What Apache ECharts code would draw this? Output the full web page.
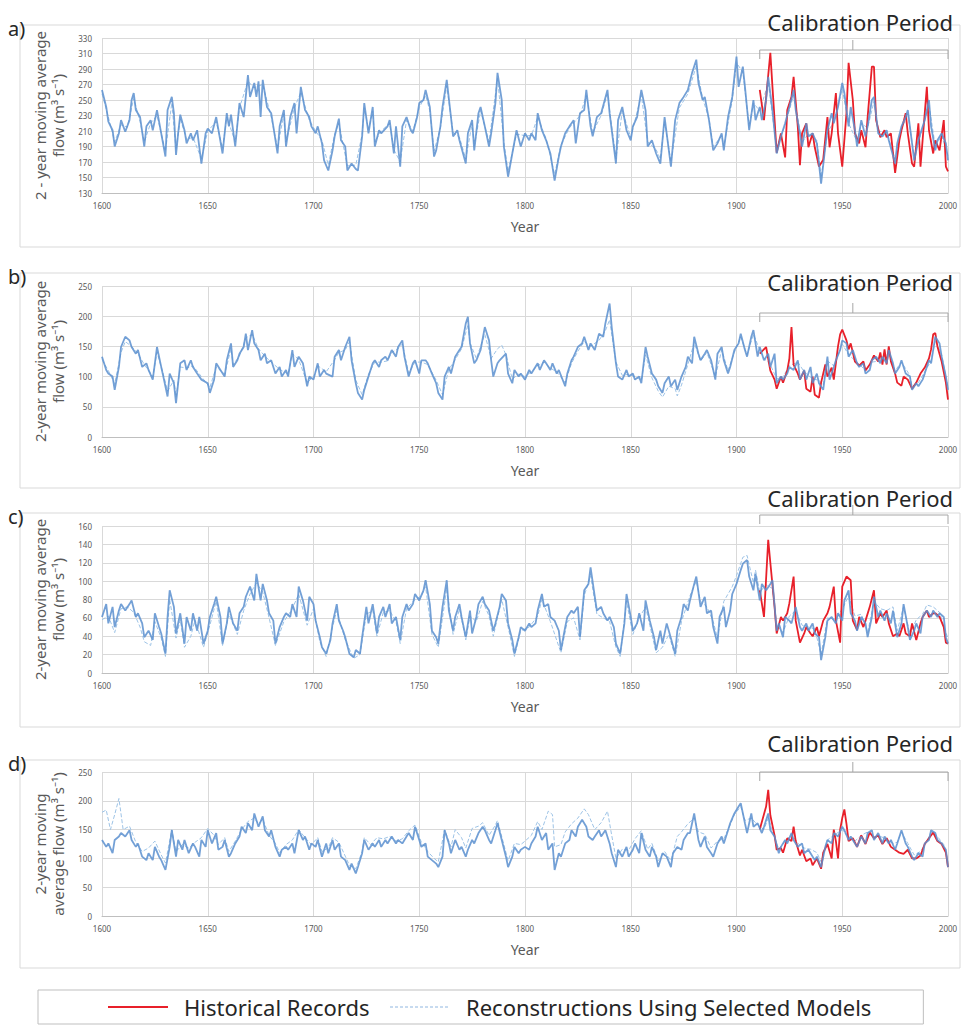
<!DOCTYPE html>
<html>
<head>
<meta charset="utf-8">
<script src="https://cdn.jsdelivr.net/npm/echarts@6/dist/echarts.min.js"></script>
<style>
  html, body { margin: 0; background: #fff; }
  #chart { width: 970px; height: 1027px; }
</style>
</head>
<body>
<div id="chart"></div>
<script>
// ---- series names / calibration window ----
const HIST_NAME = 'Historical Records';
const REC_NAME = 'Reconstructions Using Selected Models';
const CAL_START = 1911, CAL_END = 2000, CAL_MID = 1955;

// ---- panel a) [year, flow] ----
const A_REC = [[1600,263],[1602,241],[1603,222],[1605,211],[1606,190],[1608,207],[1609,224],[1611,209],[1613,224],[1614,250],[1615,259],[1616,237],[1618,228],[1620,190],[1621,216],[1623,224],[1624,211],[1626,237],[1628,207],[1630,177],[1631,237],[1633,254],[1634,233],[1635,179],[1636,207],[1637,231],[1639,211],[1640,194],[1642,207],[1643,198],[1645,211],[1647,168],[1649,207],[1650,213],[1652,207],[1654,228],[1657,181],[1659,233],[1660,216],[1661,231],[1663,190],[1665,246],[1667,228],[1669,282],[1670,254],[1672,272],[1673,254],[1674,274],[1675,228],[1676,276],[1678,241],[1680,233],[1681,216],[1683,181],[1684,216],[1686,237],[1687,190],[1689,228],[1691,246],[1692,207],[1694,267],[1696,237],[1698,228],[1699,216],[1701,207],[1702,216],[1704,194],[1705,172],[1707,159],[1709,185],[1710,203],[1712,226],[1713,198],[1715,190],[1716,159],[1718,168],[1720,161],[1721,159],[1723,203],[1724,246],[1726,207],[1728,241],[1729,190],[1731,211],[1732,207],[1735,216],[1736,224],[1738,181],[1739,216],[1741,164],[1742,216],[1744,228],[1746,211],[1747,207],[1749,228],[1750,246],[1752,250],[1753,263],[1755,241],[1757,177],[1758,185],[1760,216],[1761,241],[1763,276],[1765,228],[1766,203],[1768,211],[1769,198],[1772,168],[1773,207],[1775,224],[1776,185],[1778,233],[1779,241],[1781,216],[1783,190],[1784,207],[1786,246],[1787,285],[1789,250],[1790,190],[1792,151],[1794,181],[1796,211],[1798,190],[1800,207],[1802,198],[1803,207],[1805,198],[1806,233],[1808,211],[1810,198],[1812,181],[1814,146],[1816,177],[1817,190],[1819,207],[1821,216],[1823,224],[1824,194],[1826,233],[1828,237],[1829,263],[1831,216],[1832,203],[1834,228],[1836,233],[1839,263],[1840,233],[1843,168],[1844,224],[1846,241],[1848,211],[1850,198],[1851,216],[1853,228],[1855,263],[1857,237],[1858,190],[1860,198],[1862,181],[1864,168],[1866,228],[1869,164],[1871,224],[1873,246],[1875,254],[1877,263],[1879,285],[1881,302],[1882,272],[1884,250],[1885,254],[1887,224],[1889,185],[1891,194],[1893,207],[1894,185],[1896,228],[1898,254],[1900,306],[1901,267],[1903,293],[1904,267],[1906,211],[1908,250],[1909,224],[1911,241],[1912,224],[1914,250],[1915,280],[1917,237],[1919,181],[1921,203],[1923,220],[1925,241],[1927,263],[1928,237],[1930,207],[1931,190],[1933,220],[1934,203],[1936,207],[1938,194],[1940,142],[1942,190],[1943,211],[1945,233],[1946,220],[1948,241],[1950,272],[1951,259],[1953,216],[1954,241],[1956,211],[1957,190],[1959,224],[1961,203],[1962,216],[1964,250],[1965,254],[1967,207],[1969,203],[1971,211],[1972,198],[1975,168],[1976,194],[1978,216],[1980,228],[1981,237],[1983,194],[1984,172],[1986,198],[1987,207],[1989,224],[1991,250],[1992,216],[1994,185],[1995,198],[1997,207],[1999,194],[2000,172]];
const A_REC2 = [[1600,258],[1603,228],[1606,196],[1609,218],[1612,215],[1615,252],[1618,222],[1620,196],[1623,220],[1626,230],[1630,184],[1633,246],[1635,186],[1637,226],[1640,199],[1643,202],[1647,174],[1650,210],[1654,222],[1657,188],[1659,228],[1663,196],[1665,240],[1669,274],[1672,266],[1674,268],[1676,270],[1680,228],[1683,188],[1686,232],[1687,196],[1691,240],[1694,260],[1698,224],[1701,210],[1704,198],[1707,166],[1710,206],[1712,220],[1716,165],[1720,166],[1723,206],[1724,240],[1726,212],[1728,236],[1729,196],[1732,210],[1736,220],[1738,186],[1741,170],[1744,224],[1747,210],[1750,240],[1753,256],[1755,236],[1757,184],[1760,214],[1763,268],[1766,208],[1769,202],[1772,174],[1775,220],[1776,190],[1779,236],[1783,196],[1787,278],[1790,196],[1792,158],[1796,206],[1800,204],[1803,204],[1806,228],[1810,200],[1814,154],[1817,192],[1821,214],[1826,230],[1829,256],[1832,208],[1836,230],[1839,258],[1843,174],[1846,236],[1850,202],[1855,256],[1858,196],[1862,186],[1864,174],[1866,222],[1869,170],[1873,240],[1877,258],[1881,294],[1884,252],[1887,226],[1889,190],[1893,204],[1894,190],[1898,250],[1900,298],[1903,286],[1906,216],[1908,246],[1911,236],[1915,272],[1919,188],[1923,218],[1927,256],[1931,196],[1934,206],[1938,198],[1940,150],[1943,208],[1946,222],[1950,264],[1953,220],[1957,196],[1959,220],[1962,214],[1965,248],[1967,210],[1971,208],[1975,174],[1978,212],[1981,232],[1984,178],[1987,204],[1991,244],[1994,190],[1997,204],[2000,178]];
const A_HIST = [[1911,263],[1913,224],[1916,311],[1917,267],[1919,182],[1921,207],[1923,176],[1924,237],[1926,254],[1927,280],[1929,215],[1930,166],[1931,207],[1933,220],[1934,189],[1936,207],[1937,189],[1939,164],[1941,173],[1943,228],[1944,189],[1945,207],[1947,259],[1948,207],[1950,164],[1952,233],[1953,298],[1955,250],[1956,207],[1958,194],[1959,211],[1961,189],[1962,228],[1964,293],[1965,293],[1966,224],[1968,202],[1970,211],[1971,202],[1973,207],[1975,156],[1977,198],[1978,211],[1980,233],[1981,207],[1983,168],[1984,164],[1986,220],[1987,164],[1990,267],[1991,211],[1993,181],[1994,198],[1996,185],[1998,224],[1999,164],[2000,158]];

// ---- panel b) ----
const B_REC = [[1600,133],[1602,111],[1603,105],[1605,100],[1606,78],[1608,116],[1609,149],[1611,166],[1613,160],[1614,149],[1616,138],[1617,144],[1619,116],[1621,122],[1622,111],[1624,95],[1626,149],[1628,116],[1629,100],[1631,67],[1632,105],[1634,89],[1635,56],[1637,122],[1639,127],[1640,111],[1642,127],[1643,116],[1645,105],[1647,95],[1650,89],[1651,73],[1653,95],[1654,122],[1656,111],[1658,100],[1659,127],[1661,155],[1662,116],[1664,127],[1665,138],[1667,149],[1668,171],[1669,144],[1671,177],[1672,155],[1674,144],[1675,127],[1677,138],[1678,122],[1680,127],[1682,105],[1684,116],[1685,100],[1687,111],[1688,100],[1690,144],[1691,116],[1693,133],[1695,122],[1697,84],[1698,100],[1700,95],[1702,122],[1703,100],[1705,111],[1706,105],[1709,100],[1710,133],[1712,144],[1713,127],[1715,149],[1717,166],[1718,127],[1720,89],[1721,73],[1723,62],[1724,78],[1726,100],[1728,122],[1729,127],[1731,116],[1732,127],[1734,133],[1735,127],[1737,144],[1739,133],[1740,149],[1742,160],[1743,133],[1745,100],[1747,122],[1748,127],[1750,105],[1751,127],[1753,127],[1754,122],[1756,105],[1758,89],[1759,73],[1761,62],[1762,100],[1764,116],[1765,105],[1767,133],[1769,144],[1770,149],[1772,188],[1773,199],[1774,155],[1776,122],[1777,127],[1779,144],[1781,182],[1783,160],[1784,127],[1785,100],[1787,122],[1788,127],[1791,138],[1792,105],[1794,89],[1795,111],[1797,100],[1798,105],[1800,95],[1802,111],[1803,105],[1806,122],[1807,111],[1809,127],[1810,122],[1812,111],[1813,122],[1815,105],[1816,111],[1819,84],[1820,105],[1822,127],[1823,133],[1825,149],[1827,155],[1828,166],[1830,144],[1831,155],[1833,144],[1835,171],[1837,166],[1838,188],[1840,221],[1841,182],[1843,122],[1844,100],[1846,95],[1848,111],[1849,100],[1851,105],[1852,95],[1854,100],[1855,89],[1857,149],[1858,133],[1860,105],[1862,95],[1863,84],[1865,73],[1866,89],[1868,100],[1869,84],[1871,95],[1872,78],[1874,100],[1876,116],[1877,133],[1879,122],[1880,166],[1882,138],[1883,127],[1885,138],[1886,144],[1888,127],[1890,95],[1891,138],[1893,149],[1894,127],[1896,105],[1897,116],[1899,144],[1901,155],[1902,171],[1904,144],[1905,133],[1907,166],[1908,177],[1910,133],[1911,149],[1913,127],[1915,138],[1916,116],[1918,138],[1919,89],[1921,100],[1922,95],[1924,105],[1925,116],[1927,111],[1929,127],[1930,95],[1932,111],[1933,95],[1935,116],[1936,89],[1938,105],[1939,89],[1941,78],[1943,133],[1944,95],[1946,116],[1947,127],[1949,144],[1950,160],[1952,155],[1953,133],[1955,144],[1957,122],[1958,116],[1960,122],[1961,105],[1963,111],[1964,127],[1966,133],[1968,122],[1969,133],[1971,122],[1972,144],[1974,122],[1975,105],[1977,116],[1978,127],[1980,105],[1982,100],[1983,78],[1985,89],[1986,84],[1988,95],[1989,105],[1991,127],[1992,122],[1994,166],[1996,155],[1997,133],[1999,100],[2000,78]];
const B_REC2 = [[1600,128],[1603,110],[1606,88],[1609,140],[1611,158],[1614,150],[1617,138],[1620,120],[1624,100],[1626,140],[1629,104],[1631,76],[1634,94],[1635,66],[1637,116],[1640,114],[1643,118],[1647,100],[1651,82],[1654,116],[1658,104],[1661,146],[1662,120],[1665,134],[1668,164],[1671,170],[1674,146],[1677,134],[1680,124],[1684,112],[1688,104],[1690,138],[1693,128],[1697,90],[1700,100],[1702,118],[1706,108],[1710,128],[1712,140],[1715,144],[1717,158],[1720,94],[1723,70],[1726,104],[1729,124],[1732,124],[1735,126],[1737,140],[1740,146],[1742,154],[1745,106],[1748,124],[1751,124],[1754,120],[1758,94],[1761,70],[1764,112],[1767,128],[1770,146],[1773,186],[1774,156],[1777,130],[1781,170],[1784,130],[1787,146],[1789,152],[1791,136],[1794,96],[1797,104],[1800,100],[1803,108],[1806,118],[1809,124],[1812,114],[1815,108],[1819,90],[1822,122],[1825,142],[1828,158],[1831,150],[1835,160],[1838,176],[1840,194],[1841,170],[1843,124],[1846,102],[1849,104],[1852,100],[1855,94],[1857,136],[1860,98],[1863,76],[1865,66],[1868,84],[1871,80],[1872,68],[1874,86],[1877,120],[1880,156],[1883,126],[1886,140],[1890,100],[1893,144],[1896,110],[1899,140],[1902,166],[1905,136],[1908,170],[1911,144],[1913,130],[1916,120],[1919,96],[1922,100],[1925,118],[1929,124],[1932,108],[1936,96],[1939,94],[1941,86],[1943,126],[1946,118],[1950,154],[1953,136],[1957,124],[1961,110],[1964,124],[1968,126],[1972,140],[1975,110],[1978,124],[1982,102],[1983,84],[1986,90],[1989,108],[1992,126],[1994,160],[1997,136],[2000,82]];
const B_HIST = [[1911,138],[1914,149],[1916,110],[1918,95],[1919,80],[1921,100],[1922,90],[1924,110],[1925,130],[1926,182],[1927,120],[1929,105],[1930,95],[1932,110],[1933,80],[1935,75],[1936,100],[1937,70],[1939,65],[1940,90],[1942,120],[1943,100],[1945,115],[1946,95],[1948,150],[1949,170],[1950,178],[1952,160],[1953,145],[1954,155],[1956,125],[1958,118],[1960,125],[1961,110],[1963,120],[1965,135],[1967,125],[1968,140],[1969,120],[1970,145],[1971,120],[1972,150],[1973,125],[1975,105],[1976,90],[1978,85],[1979,100],[1981,95],[1983,80],[1985,90],[1987,105],[1989,115],[1991,130],[1992,145],[1993,170],[1994,172],[1995,150],[1997,125],[1999,90],[2000,62]];

// ---- panel c) ----
const C_REC = [[1600,61],[1602,75],[1603,54],[1605,72],[1606,50],[1608,68],[1609,75],[1611,68],[1613,75],[1614,79],[1616,61],[1617,65],[1619,54],[1620,39],[1622,46],[1624,36],[1625,65],[1627,50],[1628,43],[1630,21],[1631,61],[1632,90],[1634,72],[1635,43],[1637,65],[1639,32],[1640,61],[1642,46],[1643,65],[1645,46],[1646,61],[1648,32],[1650,46],[1651,61],[1653,75],[1654,83],[1656,61],[1657,32],[1659,54],[1660,72],[1662,54],[1664,46],[1665,65],[1667,72],[1668,83],[1670,94],[1672,79],[1673,108],[1675,79],[1676,97],[1678,79],[1679,65],[1681,57],[1682,32],[1684,50],[1686,61],[1687,65],[1689,61],[1690,75],[1692,61],[1693,94],[1695,79],[1697,57],[1698,83],[1700,75],[1701,57],[1703,39],[1704,28],[1706,21],[1708,36],[1709,54],[1711,75],[1712,57],[1714,46],[1715,39],[1717,21],[1719,17],[1720,25],[1722,21],[1723,39],[1725,72],[1726,54],[1728,75],[1730,43],[1731,61],[1733,72],[1734,61],[1736,75],[1737,54],[1739,61],[1741,36],[1742,61],[1744,75],[1745,68],[1747,75],[1748,86],[1750,79],[1752,90],[1753,101],[1755,75],[1756,46],[1758,39],[1759,32],[1761,72],[1763,101],[1764,68],[1766,46],[1767,61],[1769,75],[1770,61],[1772,39],[1774,68],[1775,43],[1777,61],[1778,75],[1780,83],[1781,75],[1783,68],[1785,46],[1786,54],[1788,72],[1789,86],[1791,79],[1792,54],[1794,36],[1795,21],[1797,39],[1798,50],[1800,46],[1802,54],[1803,50],[1805,54],[1806,68],[1808,86],[1809,72],[1811,75],[1812,61],[1814,57],[1816,46],[1817,25],[1819,50],[1820,61],[1822,68],[1823,65],[1825,72],[1826,39],[1828,90],[1830,97],[1831,115],[1833,83],[1834,68],[1836,72],[1837,65],[1839,57],[1840,61],[1842,50],[1843,32],[1845,21],[1847,54],[1848,86],[1850,61],[1851,46],[1853,54],[1854,65],[1856,46],[1857,79],[1859,57],[1861,39],[1862,25],[1864,46],[1865,32],[1867,54],[1868,46],[1871,21],[1872,46],[1874,61],[1875,75],[1877,68],[1878,79],[1880,97],[1881,105],[1883,72],[1885,83],[1886,65],[1888,68],[1889,50],[1891,32],[1892,61],[1894,72],[1895,50],[1897,68],[1898,86],[1900,97],[1902,112],[1903,119],[1905,123],[1906,105],[1908,90],[1909,108],[1911,79],[1912,97],[1914,90],[1916,97],[1917,101],[1919,46],[1920,54],[1922,39],[1923,61],[1925,57],[1926,54],[1928,72],[1930,50],[1931,46],[1933,54],[1934,46],[1936,54],[1937,43],[1939,39],[1940,14],[1942,39],[1943,57],[1945,61],[1947,54],[1948,65],[1950,57],[1951,79],[1953,90],[1954,65],[1956,57],[1957,46],[1959,61],[1961,54],[1962,39],[1964,61],[1965,83],[1967,61],[1968,68],[1970,57],[1971,65],[1973,54],[1974,68],[1976,39],[1978,54],[1979,75],[1981,50],[1982,36],[1984,46],[1985,54],[1987,43],[1988,61],[1990,68],[1992,61],[1993,68],[1995,61],[1996,65],[1998,61],[1999,39],[2000,32]];
const C_REC2 = [[1600,58],[1603,62],[1606,44],[1609,70],[1612,72],[1615,66],[1618,50],[1620,34],[1623,30],[1625,56],[1628,38],[1630,18],[1632,80],[1635,38],[1637,58],[1639,28],[1642,40],[1644,58],[1648,28],[1651,52],[1654,78],[1657,30],[1660,64],[1664,42],[1667,68],[1670,86],[1673,98],[1676,88],[1679,60],[1682,30],[1686,56],[1690,70],[1693,86],[1697,52],[1700,70],[1703,34],[1706,18],[1709,50],[1711,68],[1715,36],[1719,16],[1722,20],[1725,64],[1728,68],[1730,40],[1733,66],[1736,68],[1739,56],[1741,32],[1744,70],[1748,80],[1751,84],[1753,94],[1756,42],[1759,28],[1763,92],[1766,42],[1769,70],[1772,36],[1774,62],[1777,56],[1780,78],[1783,62],[1785,40],[1789,80],[1792,50],[1795,18],[1798,46],[1802,50],[1806,62],[1808,80],[1812,56],[1817,22],[1820,56],[1823,60],[1826,36],[1828,84],[1831,106],[1834,64],[1837,60],[1840,56],[1843,28],[1845,18],[1848,78],[1851,42],[1854,60],[1857,72],[1859,52],[1862,22],[1865,28],[1868,42],[1871,18],[1874,56],[1878,84],[1881,100],[1883,78],[1886,72],[1889,56],[1891,38],[1894,78],[1898,94],[1900,106],[1903,126],[1905,128],[1908,98],[1909,112],[1911,88],[1914,96],[1917,92],[1919,52],[1922,44],[1925,62],[1928,68],[1931,52],[1934,50],[1937,48],[1940,20],[1943,60],[1946,58],[1948,62],[1951,74],[1953,84],[1956,62],[1959,64],[1962,44],[1965,78],[1968,70],[1971,68],[1974,72],[1976,46],[1979,72],[1982,42],[1985,58],[1988,64],[1990,74],[1993,72],[1996,66],[1999,44],[2000,38]];
const C_HIST = [[1911,90],[1913,61],[1915,145],[1916,120],[1918,72],[1919,43],[1921,61],[1922,57],[1924,65],[1925,76],[1927,105],[1928,57],[1930,33],[1932,43],[1933,50],[1935,43],[1936,40],[1938,50],[1939,40],[1941,57],[1943,65],[1944,72],[1946,94],[1947,57],[1949,33],[1950,94],[1952,105],[1954,101],[1955,57],[1957,47],[1958,61],[1960,50],[1961,57],[1963,72],[1965,90],[1966,54],[1968,65],[1969,61],[1971,68],[1972,54],[1974,40],[1976,43],[1977,40],[1979,54],[1980,43],[1982,40],[1983,54],[1985,36],[1987,54],[1988,61],[1990,68],[1991,61],[1993,65],[1994,65],[1996,61],[1998,50],[1999,33],[2000,32]];

// ---- panel d) ----
const D_REC = [[1600,132],[1602,120],[1603,126],[1605,109],[1606,132],[1608,138],[1609,144],[1611,138],[1613,149],[1614,132],[1616,120],[1617,126],[1619,103],[1621,97],[1622,109],[1624,97],[1625,120],[1627,103],[1628,97],[1630,80],[1632,120],[1633,149],[1635,103],[1636,132],[1638,115],[1639,132],[1641,109],[1643,126],[1644,120],[1646,103],[1647,132],[1649,120],[1650,149],[1652,126],[1654,144],[1655,115],[1657,120],[1658,132],[1660,103],[1661,109],[1663,126],[1665,138],[1666,155],[1668,144],[1669,161],[1671,149],[1672,178],[1674,155],[1676,173],[1677,149],[1679,138],[1680,149],[1682,120],[1684,103],[1685,115],[1687,120],[1688,115],[1690,126],[1691,109],[1693,149],[1695,132],[1696,138],[1698,115],[1699,126],[1701,120],[1702,132],[1704,103],[1706,126],[1707,109],[1709,132],[1710,115],[1712,126],[1713,103],[1715,97],[1717,80],[1718,91],[1720,74],[1721,85],[1723,109],[1724,132],[1726,115],[1728,126],[1729,120],[1731,132],[1732,120],[1734,132],[1735,126],[1737,138],[1739,126],[1740,132],[1742,126],[1743,132],[1745,144],[1747,132],[1748,155],[1750,132],[1751,120],[1753,126],[1754,103],[1756,97],[1758,91],[1759,85],[1761,103],[1762,149],[1764,126],[1765,109],[1767,132],[1769,115],[1770,120],[1772,103],[1773,115],[1775,132],[1776,126],[1778,144],[1780,155],[1781,149],[1783,132],[1784,126],[1786,149],[1787,161],[1789,132],[1791,103],[1792,85],[1794,103],[1795,120],[1797,109],[1798,115],[1800,120],[1802,115],[1803,126],[1805,138],[1806,155],[1808,132],[1810,144],[1811,115],[1813,126],[1814,80],[1816,109],[1817,103],[1819,126],[1821,132],[1822,149],[1824,138],[1825,155],[1827,167],[1829,155],[1830,138],[1832,132],[1833,138],[1835,149],[1836,138],[1838,149],[1840,126],[1841,109],[1843,85],[1844,115],[1846,103],[1848,120],[1849,103],[1851,115],[1852,126],[1854,109],[1855,144],[1857,115],[1859,103],[1860,120],[1862,103],[1863,85],[1865,109],[1867,103],[1869,85],[1870,109],[1872,120],[1874,115],[1875,132],[1877,144],[1878,144],[1880,178],[1882,132],[1883,120],[1885,138],[1886,120],[1888,109],[1889,103],[1891,126],[1893,138],[1894,126],[1896,149],[1897,161],[1899,178],[1901,190],[1902,196],[1904,161],[1905,144],[1907,178],[1908,155],[1910,161],[1912,144],[1913,155],[1915,178],[1916,149],[1918,138],[1920,109],[1921,120],[1923,132],[1924,126],[1926,144],[1927,132],[1929,120],[1931,126],[1932,109],[1934,115],[1935,109],[1937,97],[1938,103],[1940,85],[1942,120],[1943,132],[1945,126],[1946,144],[1948,138],[1950,155],[1951,149],[1953,132],[1954,138],[1956,126],[1957,120],[1959,138],[1961,126],[1962,144],[1964,149],[1965,132],[1967,144],[1969,126],[1970,138],[1972,126],[1973,132],[1975,115],[1976,126],[1978,149],[1980,126],[1981,120],[1983,103],[1984,97],[1986,109],[1988,103],[1989,126],[1991,132],[1992,149],[1994,144],[1995,132],[1997,126],[1999,115],[2000,85]];
const D_REC2 = [[1600,180],[1602,184],[1604,150],[1606,176],[1608,204],[1610,150],[1613,156],[1616,128],[1619,112],[1622,118],[1625,130],[1628,106],[1630,92],[1633,150],[1635,112],[1638,124],[1641,118],[1644,128],[1647,136],[1650,152],[1653,140],[1655,124],[1658,136],[1660,112],[1663,130],[1666,150],[1669,164],[1672,170],[1674,160],[1676,168],[1679,140],[1682,126],[1684,110],[1687,124],[1690,132],[1693,150],[1696,136],[1699,124],[1702,136],[1704,112],[1707,118],[1709,136],[1712,128],[1715,104],[1717,88],[1720,82],[1723,112],[1724,136],[1727,124],[1730,136],[1733,134],[1736,138],[1739,130],[1742,134],[1745,148],[1748,158],[1751,128],[1754,112],[1757,100],[1759,94],[1762,150],[1765,120],[1767,150],[1770,136],[1772,118],[1775,152],[1778,156],[1780,162],[1783,140],[1786,158],[1787,166],[1790,124],[1792,96],[1795,126],[1798,124],[1800,130],[1803,140],[1806,164],[1808,150],[1811,182],[1813,176],[1814,120],[1817,124],[1819,146],[1822,160],[1825,170],[1828,186],[1830,176],[1833,150],[1836,162],[1839,182],[1841,140],[1843,100],[1846,116],[1849,114],[1852,134],[1855,148],[1858,116],[1860,126],[1863,96],[1866,112],[1869,96],[1872,138],[1874,146],[1877,160],[1880,170],[1882,146],[1885,142],[1888,118],[1891,130],[1894,134],[1897,158],[1899,176],[1902,190],[1904,166],[1907,170],[1910,158],[1913,150],[1915,170],[1918,136],[1920,116],[1923,130],[1926,142],[1929,126],[1932,118],[1935,116],[1938,110],[1940,94],[1943,132],[1946,140],[1950,150],[1953,136],[1956,130],[1959,140],[1962,146],[1965,138],[1968,138],[1971,134],[1974,126],[1976,128],[1978,146],[1981,126],[1984,106],[1987,112],[1990,130],[1992,146],[1995,138],[1998,124],[2000,94]];
const D_HIST = [[1911,150],[1914,190],[1915,219],[1916,175],[1918,140],[1919,115],[1921,118],[1922,110],[1924,135],[1926,130],[1927,155],[1928,130],[1930,105],[1931,115],[1933,95],[1935,100],[1936,88],[1938,100],[1940,82],[1941,110],[1943,125],[1945,100],[1946,150],[1947,130],[1948,100],[1949,150],[1950,170],[1951,185],[1952,160],[1953,130],[1955,135],[1957,120],[1959,140],[1961,125],[1963,145],[1965,135],[1967,140],[1969,125],[1971,135],[1973,120],[1975,115],[1977,110],[1979,108],[1981,115],[1983,100],[1985,100],[1987,105],[1989,125],[1991,135],[1993,145],[1995,130],[1997,125],[1999,110],[2000,85]];

// ---- layout of the four panels ----
const PANELS = [
  { tag: 'a)', top: 38,  height: 155, min: 130, max: 330, step: 20, frameY: 25,  frameH: 222, bracketY: 50,  calY: 22,
    yName: '2 - year moving average\nflow (m³ s⁻¹)', rec: A_REC, rec2: A_REC2, hist: A_HIST },
  { tag: 'b)', top: 286, height: 151, min: 0, max: 250, step: 50, frameY: 273, frameH: 215, bracketY: 313, calY: 282,
    yName: '2-year moving average\nflow (m³ s⁻¹)', rec: B_REC, rec2: B_REC2, hist: B_HIST },
  { tag: 'c)', top: 526, height: 147, min: 0, max: 160, step: 20, frameY: 513, frameH: 214, bracketY: 515, calY: 498,
    yName: '2-year moving average\nflow (m³ s⁻¹)', rec: C_REC, rec2: C_REC2, hist: C_HIST },
  { tag: 'd)', top: 772, height: 144, min: 0, max: 250, step: 50, frameY: 760, frameH: 208, bracketY: 772, calY: 743,
    yName: '2-year moving\naverage flow (m³ s⁻¹)', rec: D_REC, rec2: D_REC2, hist: D_HIST },
];

const FONT = '"Noto Sans", "Open Sans", sans-serif';
const GRID_LEFT = 102, GRID_W = 846;

const chart = echarts.init(document.getElementById('chart'), null, { renderer: 'svg' });

const grids = PANELS.map(p => ({ left: GRID_LEFT, width: GRID_W, top: p.top, height: p.height }));

const xAxes = PANELS.map((p, i) => ({
  type: 'value', gridIndex: i, min: 1600, max: 2000, interval: 50,
  name: 'Year', nameLocation: 'middle', nameGap: 26,
  nameTextStyle: { color: '#595959', fontSize: 14, fontFamily: FONT },
  axisLine: { lineStyle: { color: '#bfbfbf' } }, axisTick: { show: false },
  axisLabel: { color: '#595959', fontSize: 8, margin: 8, fontFamily: FONT, formatter: v => String(v) },
  splitLine: { show: true, lineStyle: { color: '#d9d9d9' } },
}));

const yAxes = PANELS.map((p, i) => ({
  type: 'value', gridIndex: i, min: p.min, max: p.max, interval: p.step,
  name: p.yName, nameLocation: 'middle', nameRotate: 90, nameGap: 30,
  nameTextStyle: { color: '#595959', fontSize: 15, lineHeight: 18, fontFamily: FONT },
  axisLine: { show: false }, axisTick: { show: false },
  axisLabel: { color: '#595959', fontSize: 8, margin: 10, fontFamily: FONT },
  splitLine: { lineStyle: { color: '#d9d9d9' } },
}));

const series = [];
PANELS.forEach((p, i) => {
  const base = { type: 'line', xAxisIndex: i, yAxisIndex: i, symbol: 'none', silent: true, animation: false };
  series.push({ ...base, name: REC_NAME, data: p.rec2, z: 1,
    itemStyle: { color: '#9dc3e6' },
    lineStyle: { color: '#9dc3e6', width: 1, type: [4, 2] } });
  series.push({ ...base, name: HIST_NAME, data: p.hist, z: 2,
    itemStyle: { color: '#e8202a' },
    lineStyle: { color: '#e8202a', width: 1.8 } });
  series.push({ ...base, name: REC_NAME, data: p.rec, z: 3,
    itemStyle: { color: '#5b8fcf' },
    lineStyle: { color: '#5b8fcf', width: 1.8, opacity: 0.85 } });
});

chart.setOption({
  backgroundColor: '#fff',
  animation: false,
  grid: grids, xAxis: xAxes, yAxis: yAxes, series,
  legend: {
    left: 38, top: 990,
    padding: [6, 52, 6, 69],
    borderColor: '#bfbfbf', borderWidth: 1,
    itemWidth: 60, itemHeight: 14, itemGap: 20,
    itemStyle: { opacity: 0 },
    textStyle: { color: '#262626', fontSize: 22, fontFamily: FONT, padding: [0, 0, 0, 11] },
    data: [
      { name: HIST_NAME, lineStyle: { color: '#e8202a', width: 2 } },
      { name: REC_NAME, lineStyle: { color: '#8fb6e0', width: 1, type: [3, 2] } },
    ],
    selectedMode: false,
  },
});

// frames, panel tags, "Calibration Period" brackets
const graphic = [];
PANELS.forEach((p, i) => {
  graphic.push({ type: 'rect', silent: true, z: -1,
    shape: { x: 20, y: p.frameY, width: 940, height: p.frameH },
    style: { fill: 'none', stroke: '#d9d9d9', lineWidth: 1 } });
  graphic.push({ type: 'text', x: 8, y: p.frameY + 3, style: {
    text: p.tag, fill: '#262626', font: '20px ' + FONT, verticalAlign: 'middle' } });
  graphic.push({ type: 'text', x: 953, y: p.calY, style: {
    text: 'Calibration Period', fill: '#262626', font: '22px ' + FONT, align: 'right', verticalAlign: 'middle' } });
  const x0 = chart.convertToPixel({ xAxisIndex: i }, CAL_START);
  const x1 = chart.convertToPixel({ xAxisIndex: i }, CAL_END);
  const xm = chart.convertToPixel({ xAxisIndex: i }, CAL_MID);
  const y = p.bracketY;
  graphic.push({ type: 'polyline', silent: true,
    shape: { points: [[x0, y + 9], [x0, y], [x1, y], [x1, y + 9]] },
    style: { fill: 'none', stroke: '#a6a6a6', lineWidth: 1 } });
  graphic.push({ type: 'line', silent: true,
    shape: { x1: xm, y1: y, x2: xm, y2: y - 10 },
    style: { stroke: '#a6a6a6', lineWidth: 1 } });
});
chart.setOption({ graphic });
</script>
</body>
</html>
